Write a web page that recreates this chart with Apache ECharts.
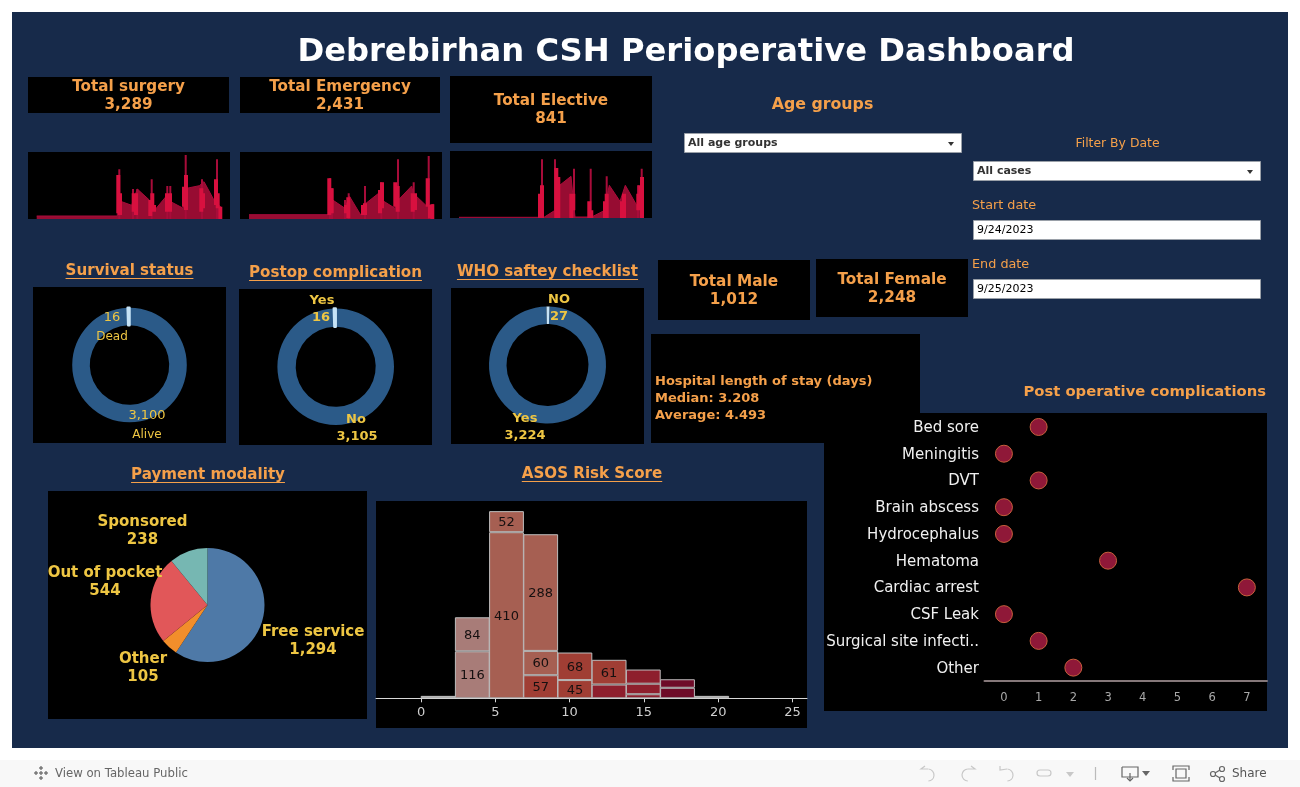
<!DOCTYPE html>
<html>
<head>
<meta charset="utf-8">
<title>Debrebirhan CSH Perioperative Dashboard</title>
<script src="https://cdn.jsdelivr.net/npm/echarts@6/dist/echarts.min.js"></script>
<style>html,body{margin:0;padding:0;background:#fff}#c{width:1300px;height:787px}</style>
</head>
<body>
<div id="c"></div>
<script>
// ---------- data ----------
const kpiNames = ['Total surgery', 'Total Emergency', 'Total Elective', 'Total Male', 'Total Female'];
const kpiValues = [3289, 2431, 841, 1012, 2248];

const survivalNames = ['Dead', 'Alive'];
const survivalValues = [16, 3100];
const postopNames = ['Yes', 'No'];
const postopValues = [16, 3105];
const whoNames = ['NO', 'Yes'];
const whoValues = [27, 3224];

const paymentNames = ['Free service', 'Other', 'Out of pocket', 'Sponsored'];
const paymentValues = [1294, 105, 544, 238];

const asosBins = ['0-2.3', '2.3-4.6', '4.6-6.9', '6.9-9.2', '9.2-11.5', '11.5-13.8', '13.8-16.1', '16.1-18.4', '18.4-20.7'];
const asosLower = [6, 116, 410, 57, 45, 34, 10, 26, 6];
const asosMiddle = [null, 84, 52, 60, 68, 61, 26, 21, null];
const asosUpper = [null, null, null, 288, null, null, 35, null, null];
const asosTicks = [0, 5, 10, 15, 20, 25];

const complicationNames = ['Bed sore', 'Meningitis', 'DVT', 'Brain abscess', 'Hydrocephalus', 'Hematoma', 'Cardiac arrest', 'CSF Leak', 'Surgical site infecti..', 'Other'];
const complicationCounts = [1, 0, 1, 0, 0, 3, 7, 0, 1, 2];
const complicationTicks = [0, 1, 2, 3, 4, 5, 6, 7];

const surgeryArea = [[8.7,3],[89.3,3],[89.5,17],[93.7,17.3],[103.7,13.7],[109.3,30],[121.3,19],[126,8],[138.7,23.3],[142.7,17.3],[155.3,10.7],[158.7,30.7],[171.3,33.3],[176,37.3],[187.7,15.7],[192.7,12.3],[193,0]];
const surgeryTips = [[91.3,49.7],[105,30],[109.3,30],[123.7,39.7],[139.3,33],[142.3,33],[157.7,64],[174,39.7],[189,59.7]];
const surgeryBodies = [[90.3,5.7,44],[92,4,25.7],[105.7,7.3,25.7],[108,4,25.7],[122.3,3,19],[124.3,9,25.7],[126,7.3,14],[139,7.3,25.7],[142,7.3,25.7],[156,12.3,32.3],[158,9,44],[173.3,7.3,30.7],[175,10.7,25.7],[188,14,39.7],[189.7,10.7,25.7],[192.3,0,12.3]];

const emergencyArea = [[9,4.3],[89.3,4.3],[89.6,19],[92.7,19],[105,10.7],[109.3,23],[120.7,4],[126,15.7],[139.3,26.3],[141.7,19],[155,10.7],[158.3,19],[171.7,33],[173.3,25.7],[187.3,12.3],[193.3,14.7],[193.4,0]];
const emergencyTips = [[90,40.7],[92,30.7],[105,19],[108.7,25.7],[125,33],[141.3,36.7],[158,59.7],[173.7,36.7],[188.7,63]];
const emergencyBodies = [[89.3,4,40.7],[91.7,5.7,30.7],[106,5.7,14],[108.3,0.7,21.7],[123,4,14],[125,4,15.7],[140,5.7,29],[142,10.7,36.7],[155.3,12.3,36.7],[157.7,7.3,33],[172.7,7.3,25.7],[175,9,25.7],[187.7,12.3,40.7],[190,0.7,14],[192.3,0,14.7]];

const electiveArea = [[9,0.7],[89.3,0.7],[94,0.7],[105,7.7],[110,33],[121,41.7],[125,1],[141.7,1],[154,7.3],[159.3,32.7],[170,16.7],[175.3,32.7],[186.7,12.7],[192.7,12.7],[192.8,0]];
const electiveTips = [[92,58.7],[105,58.7],[124,49.3],[140.7,49.3],[156.7,41.7],[188,32.7],[191.7,49.3]];
const electiveBodies = [[90,0,24.3],[92,0,32.7],[106.3,0,50],[108.3,0,41],[121.3,0,24.3],[123.3,7.7,24.3],[139.3,0,16.7],[141.3,0,7.7],[155,0,16.7],[156.7,0,24.3],[172,0,16.7],[174,0,24.3],[188.3,7.7,24.3],[190.3,7.7,32.7],[192,0,41]];

// ---------- styles ----------
const NAVY = '#172a4a', ORANGE = '#f5a04a', YELLOW = '#eec643', FONT = '"DejaVu Sans"';
const RING = '#2b5a88', RING_LIGHT = '#c6e3f6';
const PIE_COLORS = ['#4e79a7', '#f28e2b', '#e15759', '#76b7b2'];
const C1 = '#a87c78', C2 = '#a65f52', C3 = '#a03e34', C4 = '#8e1f2d', C5 = '#6e0b28', CG = '#c0c0c0';
const asosLowerColors = [CG, C1, C2, C3, C3, C4, C4, C5, CG];
const asosMiddleColors = [CG, C1, C2, C2, C3, C3, C4, C5, CG];
const asosUpperColors = [CG, C1, C2, C2, C3, C3, C4, C5, CG];

const fmt = v => v.toLocaleString('en-US');
const measure = document.createElement('canvas').getContext('2d');

// ---------- drawing helpers ----------
const back = [], front = [];
function rect(x0, y0, x1, y1, fill, stroke) {
  back.push({ type: 'rect', z: -10, silent: true, shape: { x: x0, y: y0, width: x1 - x0, height: y1 - y0 }, style: { fill, stroke: stroke || null, lineWidth: stroke ? 1 : 0 } });
}
function text(str, x, y, size, color, opt) {
  opt = opt || {};
  front.push({ type: 'text', z: 100, silent: true, x, y: y + 1, style: { text: str, fill: color, font: (opt.weight || 'normal') + ' ' + size + 'px ' + FONT, align: opt.align || 'center', verticalAlign: 'middle' } });
}
function underlined(str, x, y) {
  text(str, x, y, 15.1, ORANGE, { weight: 'bold' });
  measure.font = 'bold 15.1px ' + FONT;
  const w = measure.measureText(str).width;
  front.push({ type: 'line', z: 100, silent: true, shape: { x1: x - w / 2, y1: y + 8.5, x2: x + w / 2, y2: y + 8.5 }, style: { stroke: ORANGE, lineWidth: 1 } });
}
function kpi(i, x0, y0, x1, y1, ty, vy, size) {
  rect(x0, y0, x1, y1, '#000');
  text(kpiNames[i], (x0 + x1) / 2, ty, size || 15.2, ORANGE, { weight: 'bold' });
  text(fmt(kpiValues[i]), (x0 + x1) / 2, vy, size || 15.2, ORANGE, { weight: 'bold' });
}
function inputBox(str, x0, y0, x1, y1, bold, arrow) {
  rect(x0 + 0.5, y0 + 0.5, x1 - 0.5, y1 - 0.5, '#fff', '#9aa0a8');
  text(str, x0 + 4, (y0 + y1) / 2 - 0.5, 11, bold ? '#333' : '#000', { align: 'left', weight: bold ? 'bold' : 'normal' });
  if (arrow) back.push({ type: 'polygon', z: -5, silent: true, shape: { points: [[x1 - 14, (y0 + y1) / 2 - 1], [x1 - 8, (y0 + y1) / 2 - 1], [x1 - 11, (y0 + y1) / 2 + 3]] }, style: { fill: '#333' } });
}
function stroke(type, shape, color) {
  front.push({ type, z: 100, silent: true, shape, style: { stroke: color, lineWidth: 1.2, fill: null } });
}
function segments(list, tips) {
  const out = [];
  list.forEach(s => {
    out.push(tips ? [s[0], 0] : [s[0], s[1]]);
    out.push(tips ? [s[0], s[1]] : [s[0], s[2]]);
    out.push([s[0], null]);
  });
  return out;
}

// ---------- frame ----------
rect(12, 12, 1288, 748, NAVY);
rect(0, 760, 1300, 787, '#f8f8f8');
text('Debrebirhan CSH Perioperative Dashboard', 686, 52, 32.2, '#fff', { weight: 'bold' });

kpi(0, 28, 77, 229, 113, 86, 104);
kpi(1, 240, 77, 440, 113, 86, 104);
kpi(2, 450, 76, 652, 143, 100, 118);
kpi(3, 658, 260, 810, 320, 281, 299, 15.3);
kpi(4, 816, 259, 968, 317, 279, 297, 15.3);

rect(28, 152, 230, 219, '#000');
rect(240, 152, 442, 219, '#000');
rect(450, 151, 652, 218, '#000');
rect(33, 287, 226, 443, '#000');
rect(239, 289, 432, 445, '#000');
rect(451, 288, 644, 444, '#000');
rect(651, 334, 920, 443, '#000');
rect(824, 413, 1267, 711, '#000');
rect(48, 491, 367, 719, '#000');
rect(376, 501, 807, 728, '#000');

// ---------- headings ----------
underlined('Survival status', 129.5, 270);
underlined('Postop complication', 335.5, 272);
underlined('WHO saftey checklist', 547.5, 271);
underlined('Payment modality', 208, 474);
underlined('ASOS Risk Score', 592, 473);
text('Age groups', 822.5, 104, 15.8, ORANGE, { weight: 'bold' });
text('Post operative complications', 1266, 391, 14.8, ORANGE, { weight: 'bold', align: 'right' });
text('Filter By Date', 1117.5, 143, 12.4, ORANGE);
text('Start date', 972, 205, 12.8, ORANGE, { align: 'left' });
text('End date', 972, 264, 12.8, ORANGE, { align: 'left' });

inputBox('All age groups', 684, 133, 962, 153, true, true);
inputBox('All cases', 973, 161, 1261, 181, true, true);
inputBox('9/24/2023', 973, 220, 1261, 240, false, false);
inputBox('9/25/2023', 973, 279, 1261, 299, false, false);

text('Hospital length of stay (days)', 655, 380.5, 13, ORANGE, { weight: 'bold', align: 'left' });
text('Median: 3.208', 655, 397.5, 13, ORANGE, { weight: 'bold', align: 'left' });
text('Average: 4.493', 655, 414.5, 13, ORANGE, { weight: 'bold', align: 'left' });

// ---------- donut and pie labels ----------
text(fmt(survivalValues[0]), 112, 316.5, 13, YELLOW);
text(survivalNames[0], 112, 335.5, 12, YELLOW);
text(fmt(survivalValues[1]), 147, 414.5, 13, YELLOW);
text(survivalNames[1], 147, 433.5, 12, YELLOW);
text(postopNames[0], 322, 299.5, 13, YELLOW, { weight: 'bold' });
text(fmt(postopValues[0]), 321, 316.5, 13, YELLOW, { weight: 'bold' });
text(postopNames[1], 356, 418.5, 13, YELLOW, { weight: 'bold' });
text(fmt(postopValues[1]), 357, 435.5, 13, YELLOW, { weight: 'bold' });
text(whoNames[0], 559, 299, 13, YELLOW, { weight: 'bold' });
text(fmt(whoValues[0]), 559, 316, 13, YELLOW, { weight: 'bold' });
text(whoNames[1], 525, 418, 13, YELLOW, { weight: 'bold' });
text(fmt(whoValues[1]), 525, 435, 13, YELLOW, { weight: 'bold' });

const payLabelPos = [[313, 631], [143, 658], [105, 572], [142.5, 521]];
paymentNames.forEach((n, i) => {
  text(n, payLabelPos[i][0], payLabelPos[i][1], 15, YELLOW, { weight: 'bold' });
  text(fmt(paymentValues[i]), payLabelPos[i][0], payLabelPos[i][1] + 18, 15, YELLOW, { weight: 'bold' });
});

// ---------- Tableau toolbar ----------
text('View on Tableau Public', 55, 772.5, 11.7, '#666', { align: 'left' });
text('Share', 1232, 772.5, 12, '#555', { align: 'left' });
[[41, 773], [36, 773], [46, 773], [41, 768], [41, 778]].forEach(p => {
  stroke('line', { x1: p[0] - 2, y1: p[1], x2: p[0] + 2, y2: p[1] }, '#666');
  stroke('line', { x1: p[0], y1: p[1] - 2, x2: p[0], y2: p[1] + 2 }, '#666');
});
const FAINT = '#c8c8c8';
stroke('arc', { cx: 928, cy: 775, r: 6, startAngle: -1.5, endAngle: 1.5 }, FAINT);
stroke('polyline', { points: [[925, 766], [921, 769], [928, 769]] }, FAINT);
stroke('arc', { cx: 968, cy: 775, r: 6, startAngle: 1.6, endAngle: 4.7 }, FAINT);
stroke('polyline', { points: [[971, 766], [975, 769], [968, 769]] }, FAINT);
stroke('arc', { cx: 1007, cy: 775, r: 6, startAngle: -1.5, endAngle: 1.5 }, FAINT);
stroke('polyline', { points: [[1000, 766], [1000, 770], [1007, 769]] }, FAINT);
stroke('rect', { x: 1037, y: 770, width: 14, height: 6, r: 3 }, FAINT);
back.push({ type: 'polygon', z: 100, silent: true, shape: { points: [[1066, 772], [1074, 772], [1070, 777]] }, style: { fill: FAINT } });
stroke('line', { x1: 1095.5, y1: 767, x2: 1095.5, y2: 780 }, '#bbb');
stroke('polyline', { points: [[1122, 767], [1138, 767], [1138, 777], [1122, 777], [1122, 767]] }, '#666');
stroke('polyline', { points: [[1130, 773], [1130, 781]] }, '#666');
stroke('polyline', { points: [[1127, 778], [1130, 781], [1133, 778]] }, '#666');
back.push({ type: 'polygon', z: 100, silent: true, shape: { points: [[1142, 771], [1150, 771], [1146, 776]] }, style: { fill: '#666' } });
stroke('rect', { x: 1176, y: 769, width: 10, height: 9 }, '#666');
stroke('polyline', { points: [[1173, 770], [1173, 766], [1189, 766], [1189, 770]] }, '#666');
stroke('polyline', { points: [[1173, 777], [1173, 781], [1189, 781], [1189, 777]] }, '#666');
stroke('circle', { cx: 1213, cy: 774, r: 2.5 }, '#666');
stroke('circle', { cx: 1222, cy: 769, r: 2.5 }, '#666');
stroke('circle', { cx: 1222, cy: 779, r: 2.5 }, '#666');
stroke('line', { x1: 1215, y1: 773, x2: 1220, y2: 770 }, '#666');
stroke('line', { x1: 1215, y1: 775, x2: 1220, y2: 778 }, '#666');

// ---------- grids ----------
const sparkGrids = [
  { left: 28, top: 152, width: 202, height: 67 },
  { left: 240, top: 152, width: 202, height: 67 },
  { left: 450, top: 151, width: 202, height: 67 }
];
const grids = sparkGrids.concat([
  { left: 376, top: 501, width: 431, height: 197.3 },
  { left: 984.5, top: 413.6, width: 282.5, height: 267.4 },
  { left: 421, top: 501, width: 307.8, height: 197.3 }
]);

const xAxes = [0, 1, 2].map(i => ({ type: 'value', gridIndex: i, min: 0, max: 202, show: false }));
const yAxes = [0, 1, 2].map(i => ({ type: 'value', gridIndex: i, min: 0, max: 67, show: false }));

// grid 3: the ruler of the histogram
xAxes.push({
  type: 'value', gridIndex: 3, min: -3.03, max: 25.98, splitLine: { show: false },
  axisLine: { show: true, onZero: false, lineStyle: { color: '#d8d8d8', width: 1 } },
  axisTick: { show: true, customValues: asosTicks, length: 4, lineStyle: { color: '#d8d8d8' } },
  axisLabel: { customValues: asosTicks, color: '#cfcfcf', fontFamily: FONT, fontSize: 13, margin: 8 }
});
yAxes.push({ type: 'value', gridIndex: 3, min: 0, max: 487, show: false });

// grid 4: post operative complications
xAxes.push({
  type: 'value', gridIndex: 4, min: -0.56, max: 7.58, splitLine: { show: false },
  axisLine: { show: true, onZero: false, lineStyle: { color: '#85787a', width: 2 } },
  axisTick: { show: false },
  axisLabel: { customValues: complicationTicks, color: '#a8a8a8', fontFamily: FONT, fontSize: 11.5, margin: 11 }
});
yAxes.push({
  type: 'category', gridIndex: 4, inverse: true, data: complicationNames,
  axisLine: { show: false }, axisTick: { show: false }, splitLine: { show: false },
  axisLabel: {
    margin: 5.5, interval: 0, formatter: '{a|{value}}',
    rich: { a: { color: '#f0f0f0', fontFamily: FONT, fontSize: 15, padding: [2, 0, 0, 0] } }
  }
});

// grid 5: histogram bins, one band per bin, aligned to the ruler above
xAxes.push({ type: 'category', gridIndex: 5, data: asosBins, show: false });
yAxes.push({ type: 'value', gridIndex: 5, min: 0, max: 487, show: false });

// ---------- series ----------
const series = [];
[[surgeryArea, surgeryTips, surgeryBodies], [emergencyArea, emergencyTips, emergencyBodies], [electiveArea, electiveTips, electiveBodies]].forEach((s, i) => {
  const base = { type: 'line', xAxisIndex: i, yAxisIndex: i, showSymbol: false, silent: true, sampling: null, connectNulls: false };
  series.push(Object.assign({}, base, { name: kpiNames[i] + ' trend', data: s[0], z: 2, lineStyle: { color: '#a80c3a', width: 1 }, areaStyle: { color: '#970c32', opacity: 1 } }));
  series.push(Object.assign({}, base, { name: kpiNames[i] + ' peaks', data: segments(s[1], true), z: 3, lineStyle: { color: '#a80c3a', width: 2, cap: 'butt' } }));
  series.push(Object.assign({}, base, { name: kpiNames[i] + ' clusters', data: segments(s[2], false), z: 4, lineStyle: { color: '#d8103f', width: 4, cap: 'butt' } }));
});

function donut(name, names, values, cx, cy, r0, r1, start, thinWidth) {
  series.push({
    type: 'pie', name, center: [cx, cy], radius: [r0, r1], startAngle: start, clockwise: true, silent: true,
    label: { show: false }, labelLine: { show: false },
    data: [
      { name: names[1], value: values[1], itemStyle: { color: RING } },
      { name: names[0], value: values[0], itemStyle: { color: RING_LIGHT, borderColor: RING_LIGHT, borderWidth: thinWidth } }
    ]
  });
}
donut('Survival status', survivalNames, survivalValues, 129.5, 365, 39.7, 57.3, 90, 2.5);
donut('Postop complication', postopNames, postopValues, 335.7, 366.7, 40, 58.3, 90, 2.5);
donut('WHO saftey checklist', whoNames, whoValues, 547.5, 365, 41, 58.5, 88, 0);

series.push({
  type: 'pie', name: 'Payment modality', center: [207.5, 605], radius: [0, 57], startAngle: 90, silent: true,
  label: { show: false }, labelLine: { show: false },
  data: paymentNames.map((n, i) => ({ name: n, value: paymentValues[i], itemStyle: { color: PIE_COLORS[i] } }))
});

[[asosLower, asosLowerColors], [asosMiddle, asosMiddleColors], [asosUpper, asosUpperColors]].forEach((s, i) => {
  series.push({
    type: 'bar', name: 'ASOS layer ' + (i + 1), xAxisIndex: 5, yAxisIndex: 5, stack: 'asos', silent: true, barWidth: 34.8, barCategoryGap: 0,
    data: s[0],
    itemStyle: { color: p => s[1][p.dataIndex], borderColor: '#bdbdbd', borderWidth: 1, borderRadius: 0, borderJoin: 'miter' },
    label: {
      show: true, position: 'inside', offset: [0, 1], color: '#161010', fontFamily: FONT, fontSize: 13,
      formatter: p => (p.value >= 45 ? String(p.value) : '')
    }
  });
});

series.push({
  type: 'scatter', name: 'Post operative complications', xAxisIndex: 4, yAxisIndex: 4, symbol: 'circle', symbolSize: 17, silent: true,
  data: complicationCounts.map((c, i) => [c, complicationNames[i]]),
  itemStyle: { color: '#8f1838', borderColor: '#c8603c', borderWidth: 1, opacity: 1 }
});

const chart = echarts.init(document.getElementById('c'), null, { renderer: 'canvas' });
chart.setOption({
  animation: false,
  backgroundColor: '#ffffff',
  textStyle: { fontFamily: FONT },
  tooltip: { show: false },
  grid: grids,
  xAxis: xAxes,
  yAxis: yAxes,
  series,
  graphic: { elements: back.concat(front) }
});
</script>
</body>
</html>
